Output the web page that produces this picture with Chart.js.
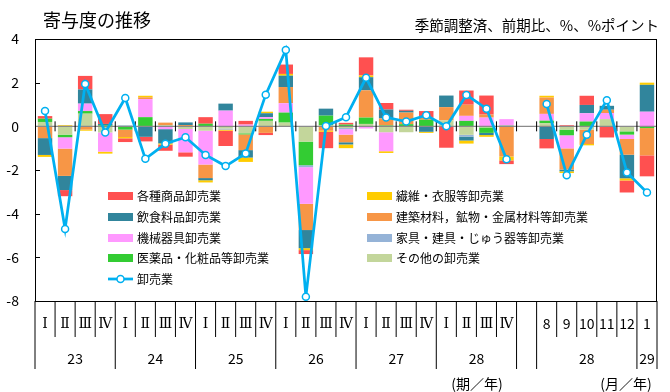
<!DOCTYPE html>
<html>
<head>
<meta charset="utf-8">
<script src="https://cdn.jsdelivr.net/npm/chart.js@4.4.1/dist/chart.umd.min.js"></script>
<style>
  html, body { margin: 0; padding: 0; background: #fff; }
</style>
</head>
<body>
<canvas id="contribChart" width="670" height="392"></canvas>
<script>
// x categories: 24 quarters, one empty slot, 6 months
const periodLabels = ['Ⅰ','Ⅱ','Ⅲ','Ⅳ','Ⅰ','Ⅱ','Ⅲ','Ⅳ','Ⅰ','Ⅱ','Ⅲ','Ⅳ','Ⅰ','Ⅱ','Ⅲ','Ⅳ','Ⅰ','Ⅱ','Ⅲ','Ⅳ','Ⅰ','Ⅱ','Ⅲ','Ⅳ','', '8','9','10','11','12','1'];
const yearNames = ['23','24','25','26','27','28','28','29'];
const yearFirst = [0, 4, 8, 12, 16, 20, 25, 30];
const yearLast  = [3, 7, 11, 15, 19, 23, 29, 30];
const longEdges = [0, 4, 8, 12, 16, 20, 24, 25, 30, 31];

// contributions (% points)
const kakushu  = [0.12,-0.28,0.62,0.45,-0.17,-0.21,-0.28,-0.2,0.3,-0.7,0.17,-0.1,0.43,-0.18,-0.75,0.08,0.83,0.3,0.05,0.3,-0.98,0.65,0.87,-0.17,null,-0.43,0.05,0.42,-0.51,-0.55,-0.96];
const seni     = [-0.09,0.05,-0.05,-0.09,-0.06,0.07,-0.06,0,-0.1,-0.05,-0.2,0.07,0.08,-0.09,-0.05,-0.17,0.08,-0.08,0,-0.05,0,-0.14,-0.08,-0.18,null,0.08,-0.08,-0.06,0,-0.1,0.1];
const inshoku  = [-0.77,-0.65,0.65,0.06,0.03,-0.48,-0.65,0.12,-0.1,0.32,-0.34,0.18,0.52,-0.83,0.32,-0.1,0.6,0.41,0.08,-0.22,0.53,-0.18,-0.1,0,null,-0.58,-0.08,0.38,0.18,-1.08,1.23];
const kenchiku = [-0.54,-1.25,-0.15,0,-0.34,0.08,0.12,0.06,-0.62,0,-0.72,-0.3,0.74,-1.2,-0.2,-0.35,1.25,0.32,0.53,0.1,0.61,0.51,0.14,-1.38,null,0.75,-0.97,-0.66,0.15,-0.72,-1.25];
const kikai    = [0,-0.52,0.34,-0.88,0,0.83,-0.13,-1.07,-1.55,0.72,0.08,0.08,0.43,-1.68,0,-0.25,-0.1,-0.87,0,0,0,0.23,0.4,0.3,null,0.31,-0.6,0.38,0.28,-0.2,0.67];
const kagu     = [0,0,0,0,0,0,0,0,0,-0.05,0,0,0,-0.09,0,-0.05,0,0,0,0,0,-0.08,0,0,null,0,0,0,0,0,0];
const iyaku    = [0.15,-0.12,0.12,0.05,-0.15,0.42,0,0,0.12,0,-0.05,0.09,0.46,-1.08,0.45,0.08,0.29,0.04,0.1,0.3,0,0.25,-0.25,0.03,null,0.12,-0.26,0.22,0,-0.15,-0.08];
const sonota   = [0.2,-0.38,0.58,-0.28,0,0,0.05,-0.12,-0.2,-0.1,-0.32,0.25,0.17,-0.7,0.04,-0.08,0.11,-0.27,-0.27,-0.03,0.27,-0.39,-0.05,0,null,0.14,-0.15,-0.15,0.33,-0.23,0];
// wholesale total (%)
const oroshi   = [0.7,-4.7,1.94,-0.28,1.3,-1.49,-0.8,-0.5,-1.31,-1.82,-1.24,1.45,3.5,-7.8,0.02,0.42,2.22,0.41,0.22,0.51,0,1.44,0.81,-1.51,null,1.02,-2.24,-0.39,1.2,-2.11,-3.03];

const FONT = "'Noto Sans CJK JP', 'Noto Sans', sans-serif";

// stacked nearest to zero first
const barSeries = [
    { label: 'その他の卸売業', data: sonota, color: '#C3D69B' },
    { label: '医薬品・化粧品等卸売業', data: iyaku, color: '#33CC33' },
    { label: '家具・建具・じゅう器等卸売業', data: kagu, color: '#95B3D7' },
    { label: '機械器具卸売業', data: kikai, color: '#FF99FF' },
    { label: '建築材料，鉱物・金属材料等卸売業', data: kenchiku, color: '#F79646' },
    { label: '飲食料品卸売業', data: inshoku, color: '#31859C' },
    { label: '繊維・衣服等卸売業', data: seni, color: '#FFCC00' },
    { label: '各種商品卸売業', data: kakushu, color: '#FF5050' },
];
const lineColor = '#00B0F0';

// legend rows: [left, right]
const legendRows = [
    ['各種商品卸売業', '繊維・衣服等卸売業'],
    ['飲食料品卸売業', '建築材料，鉱物・金属材料等卸売業'],
    ['機械器具卸売業', '家具・建具・じゅう器等卸売業'],
    ['医薬品・化粧品等卸売業', 'その他の卸売業'],
];

const datasets = barSeries.map(function(s) {
    return {
        type: 'bar',
        label: s.label,
        data: s.data,
        backgroundColor: s.color,
        borderWidth: 0,
        order: 1,
        barPercentage: 0.72,
        categoryPercentage: 1,
    };
});
datasets.unshift({
    type: 'line',
    label: '卸売業',
    data: oroshi,
    borderColor: lineColor,
    borderWidth: 2.75,
    pointRadius: 3.5,
    pointBorderWidth: 1.5,
    pointBackgroundColor: '#fff',
    pointBorderColor: lineColor,
    spanGaps: false,
    tension: 0,
    order: 0,
});

const decor = {
    id: 'decor',
    beforeDatasetDraw(chart, args) {
        if (args.meta.type !== 'line') return;
        const { ctx, chartArea: a, scales: { x, y } } = chart;
        const y0 = y.getPixelForValue(0);
        const slot = x.getPixelForValue(1) - x.getPixelForValue(0);
        ctx.save();
        ctx.strokeStyle = '#8a8a8a';
        ctx.lineWidth = 1.3;
        ctx.beginPath();
        ctx.moveTo(a.left, y0);
        ctx.lineTo(a.right, y0);
        ctx.stroke();
        ctx.strokeStyle = '#000';
        ctx.lineWidth = 1;
        for (let i = 1; i < periodLabels.length; i++) {
            const bx = x.getPixelForValue(i) - slot / 2;
            ctx.beginPath();
            ctx.moveTo(bx, y0 - 5);
            ctx.lineTo(bx, y0 + 5);
            ctx.stroke();
        }
        ctx.restore();
    },
    afterDraw(chart) {
        const { ctx, chartArea: a, scales: { x, y } } = chart;
        const slot = x.getPixelForValue(1) - x.getPixelForValue(0);
        ctx.save();

        // frame
        ctx.strokeStyle = '#000';
        ctx.lineWidth = 1;
        ctx.strokeRect(a.left + 0.5, a.top + 0.5, a.right - a.left - 1, a.bottom - a.top);

        // inner y ticks
        [2, -2, -4, -6].forEach(function(v) {
            const ty = Math.round(y.getPixelForValue(v)) + 0.5;
            ctx.beginPath();
            ctx.moveTo(a.left, ty);
            ctx.lineTo(a.left + 5, ty);
            ctx.stroke();
        });

        // category separators below the plot
        for (let i = 0; i <= periodLabels.length; i++) {
            const bx = x.getPixelForValue(i) - slot / 2;
            const len = longEdges.includes(i) ? 68 : 36;
            ctx.beginPath();
            ctx.moveTo(bx, a.bottom);
            ctx.lineTo(bx, a.bottom + len);
            ctx.stroke();
        }

        ctx.fillStyle = '#000';
        ctx.textAlign = 'center';
        ctx.textBaseline = 'middle';
        periodLabels.forEach(function(t, i) {
            if (!t) return;
            ctx.font = i < 24 ? "14px 'DejaVu Serif', " + FONT : '14px ' + FONT;
            ctx.fillText(t, x.getPixelForValue(i), a.bottom + 23);
        });
        ctx.font = '14px ' + FONT;
        yearNames.forEach(function(t, k) {
            const cx = (x.getPixelForValue(yearFirst[k]) + x.getPixelForValue(yearLast[k])) / 2;
            ctx.fillText(t, cx, a.bottom + 58);
        });
        ctx.fillText('(期／年)', 477, 384);
        ctx.fillText('(月／年)', 626, 384);

        // title
        ctx.textAlign = 'left';
        ctx.font = '18px ' + FONT;
        ctx.fillText('寄与度の推移', 43, 20);
        ctx.textAlign = 'right';
        ctx.font = '14.5px ' + FONT;
        ctx.fillText('季節調整済、前期比、%、%ポイント', 659, 25);

        // legend
        ctx.textAlign = 'left';
        ctx.font = '12px ' + FONT;
        const colX = [108, 367];
        const rowY = [196, 217, 238, 258];
        legendRows.forEach(function(row, r) {
            row.forEach(function(name, c) {
                const s = barSeries.find(function(b) { return b.label === name; });
                ctx.fillStyle = s.color;
                ctx.fillRect(colX[c], rowY[r] - 4, 25, 8);
                ctx.fillStyle = '#000';
                ctx.fillText(name, colX[c] + 29, rowY[r]);
            });
        });
        const ly = 279;
        ctx.strokeStyle = lineColor;
        ctx.lineWidth = 2.75;
        ctx.beginPath();
        ctx.moveTo(108, ly);
        ctx.lineTo(133, ly);
        ctx.stroke();
        ctx.fillStyle = '#fff';
        ctx.lineWidth = 1.5;
        ctx.beginPath();
        ctx.arc(120.5, ly, 3.5, 0, Math.PI * 2);
        ctx.fill();
        ctx.stroke();
        ctx.fillStyle = '#000';
        ctx.fillText('卸売業', 137, ly);

        ctx.restore();
    }
};

Chart.defaults.font.family = FONT;

const ctxContrib = document.getElementById('contribChart').getContext('2d');

const contribChart = new Chart(ctxContrib, {
    data: {
        labels: periodLabels,
        datasets: datasets,
    },
    options: {
        responsive: false,
        animation: false,
        devicePixelRatio: 1,
        layout: {
            padding: { left: 0, right: 13, top: 39, bottom: 91 },
        },
        scales: {
            x: {
                display: false,
                stacked: true,
                offset: true,
            },
            y: {
                stacked: true,
                min: -8,
                max: 4,
                afterFit: function(scale) { scale.width = 35; },
                ticks: {
                    stepSize: 2,
                    padding: 16,
                    color: '#000',
                    font: { size: 14 },
                },
                grid: { display: false, drawTicks: false },
                border: { display: false },
            },
        },
        plugins: {
            legend: { display: false },
            tooltip: { enabled: false },
        },
    },
    plugins: [decor],
});
</script>
</body>
</html>
